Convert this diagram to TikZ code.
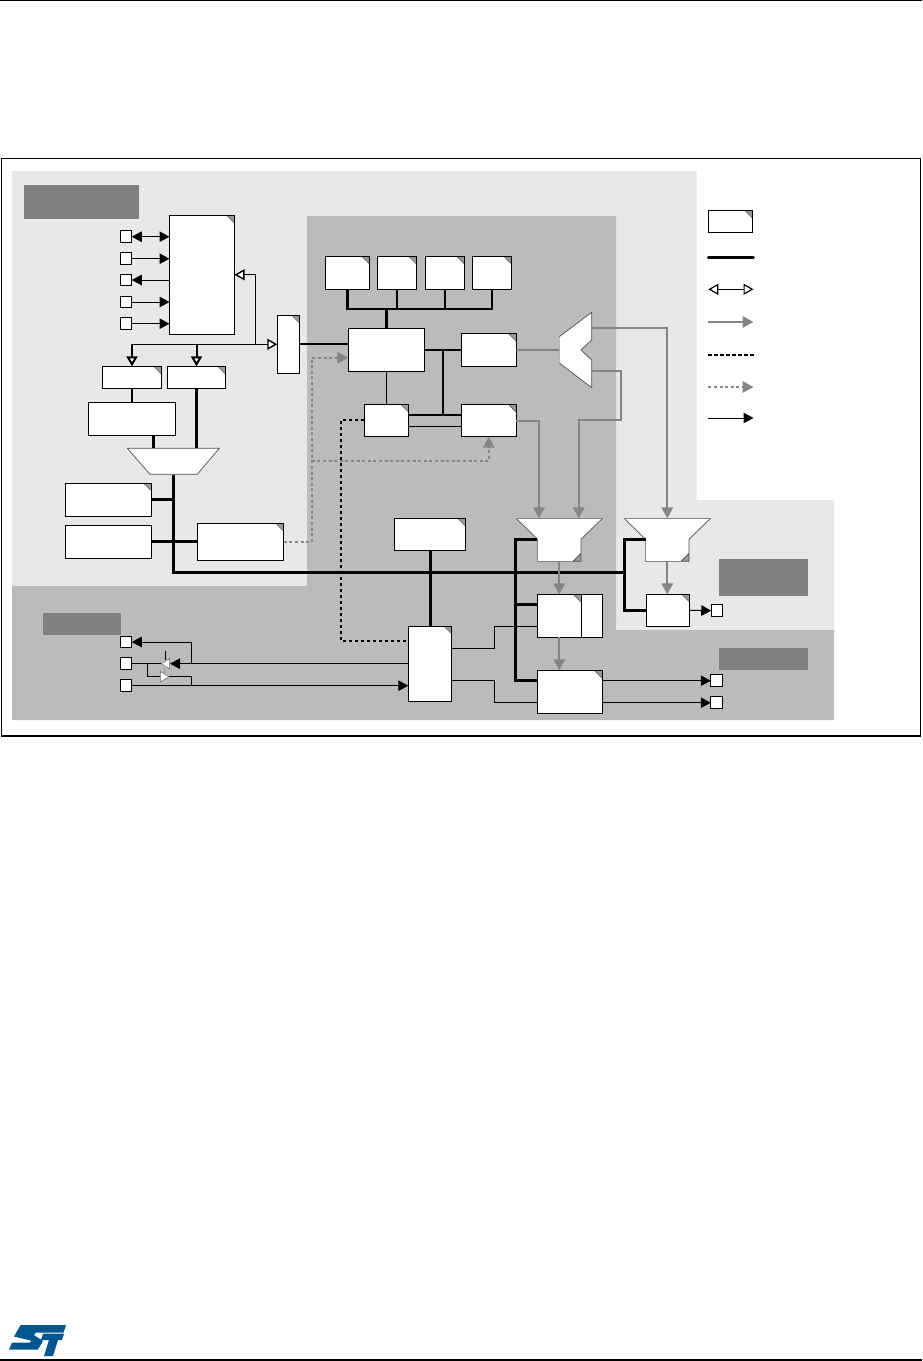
\documentclass[tikz,border=0pt]{standalone}
\usepackage{xcolor}
\usepackage{tikz}
\usetikzlibrary{calc,arrows.meta}
\definecolor{zoneLight}{HTML}{E8E8E8}
\definecolor{zoneDark}{HTML}{BBBBBB}
\definecolor{tagGrey}{HTML}{808080}
\definecolor{cornerGrey}{HTML}{999999}
\definecolor{flowGrey}{HTML}{858585}
\definecolor{logoBlue}{HTML}{03558F}
\tikzset{
  plainbox/.style={rectangle, draw=black, fill=white, line width=1pt, inner sep=0pt, outer sep=0pt},
  regbox/.style={plainbox, path picture={
    \fill[cornerGrey] ($(path picture bounding box.north east)+(-8,0)$) -- (path picture bounding box.north east) -- ($(path picture bounding box.north east)+(0,8)$) -- cycle;
    \draw[line width=0.5pt, black!70] ($(path picture bounding box.north east)+(-8,0)$) -- ($(path picture bounding box.north east)+(0,8)$);}},
  pinbox/.style={plainbox, minimum size=11.5pt},
  tagbox/.style={rectangle, fill=tagGrey, draw=none, inner sep=0pt, outer sep=0pt},
  muxbox/.style={rectangle, draw=none, inner sep=0pt, outer sep=0pt, minimum width=86.4pt, minimum height=43pt},
  thinflow/.style={line width=1pt, draw=black},
  midflow/.style={line width=2.2pt, draw=black},
  busflow/.style={line width=3pt, draw=black},
  tipflow/.style={-{Triangle[length=10pt,width=10.5pt]}, line width=1pt, draw=black},
  openflow/.style={-{Triangle[open,fill=white,length=10pt,width=11pt]}, line width=1.4pt, draw=black},
  greyflow/.style={-{Triangle[length=11pt,width=11.5pt]}, line width=2pt, draw=flowGrey},
  greydash/.style={-{Triangle[length=11pt,width=11.5pt]}, line width=1.7pt, draw=flowGrey, dash pattern=on 3pt off 2.6pt},
  greyline/.style={line width=2pt, draw=flowGrey},
  blackdash/.style={line width=1.8pt, draw=black, dash pattern=on 3.2pt off 2.8pt},
  bufftip/.style={fill=white, draw=black!60, line width=0.5pt},
}

\begin{document}
\begin{tikzpicture}[x=1pt,y=-1pt]
  \useasboundingbox (0,0) rectangle (922,1361);
  \draw[line width=1.2pt] (0,0.6) -- (922,0.6);
  \draw[line width=1.2pt] (0,1360) -- (922,1360);
  \draw[line width=1.1pt] (1.3,158.3) rectangle (920.6,736);

  % zones
  \fill[zoneLight] (12,171) -- (696.7,171) -- (696.7,500) -- (834,500) -- (834,630) -- (12,630) -- cycle;
  \fill[zoneDark] (307,216) -- (616,216) -- (616,630) -- (834,630) -- (834,720) -- (12,720) -- (12,586) -- (307,586) -- cycle;
  \node[tagbox, minimum width=115, minimum height=34] (tagone) at (81.5,202) {};
  \node[tagbox, minimum width=78, minimum height=22] (tagtwo) at (82,624) {};
  \node[tagbox, minimum width=89, minimum height=37] (tagthree) at (763.5,577.5) {};
  \node[tagbox, minimum width=89, minimum height=22] (tagfour) at (763.5,659) {};

  % left block
  \node[regbox, minimum width=65, minimum height=119.5] (gpio) at (202,274.75) {};
  \node[regbox, minimum width=22.4, minimum height=58] (bridge) at (288.5,344.3) {};
  \node[regbox, minimum width=59.4, minimum height=22] (rega) at (132,377.3) {};
  \node[regbox, minimum width=58.4, minimum height=22] (regb) at (196.5,377.3) {};
  \node[plainbox, minimum width=87.4, minimum height=33] (mema) at (132,418.8) {};
  \node[regbox, minimum width=86.4, minimum height=33] (regd) at (108.5,499.8) {};
  \node[plainbox, minimum width=86.4, minimum height=33] (meme) at (108.5,541.8) {};
  \node[regbox, minimum width=86.4, minimum height=37] (regf) at (240.5,541.8) {};
  \foreach \y [count=\i] in {236.7,258.7,280,302,323.7} { \node[pinbox] (pin\i) at (126,\y) {}; }
  \foreach \y [count=\i] in {642,663.7,685.7} { \node[pinbox] (low\i) at (126,\y) {}; }

  % centre block
  \node[regbox, minimum width=44.4, minimum height=33] (topa) at (347.5,272.8) {};
  \node[regbox, minimum width=39.4, minimum height=33] (topb) at (397,272.8) {};
  \node[regbox, minimum width=39.4, minimum height=33] (topc) at (445,272.8) {};
  \node[regbox, minimum width=39.4, minimum height=33] (topd) at (492,272.8) {};
  \node[plainbox, minimum width=76.4, minimum height=43] (core) at (386.5,349.8) {};
  \node[regbox, minimum width=55, minimum height=33] (regn) at (488.8,349.8) {};
  \node[regbox, minimum width=44.4, minimum height=32.4] (rego) at (386.5,420.5) {};
  \node[regbox, minimum width=55, minimum height=32.4] (regp) at (488.8,420.5) {};
  \node[regbox, minimum width=71.4, minimum height=32] (regh) at (430,534.3) {};
  \node[regbox, minimum width=43.4, minimum height=75.3] (regg) at (430,663.7) {};
  \node[regbox, minimum width=44, minimum height=43] (regi) at (559.3,615.8) {};
  \node[plainbox, minimum width=21, minimum height=43] (regj) at (591.8,615.8) {};
  \node[regbox, minimum width=65, minimum height=43] (regk) at (569.8,691.8) {};
  \node[regbox, minimum width=43.4, minimum height=32] (regl) at (668,610.3) {};
  \node[pinbox] (outa) at (717,610.7) {};
  \node[pinbox] (outb) at (716.5,680.7) {};
  \node[pinbox] (outc) at (716.5,702.7) {};

  % funnels
  \foreach \m/\c in {muxb/559.3,muxc/667.3} {
    \fill[white] (\c-43.2,518.3) -- (\c+43.2,518.3) -- (\c+21.7,539.3) -- (\c+21.7,561.3) -- (\c-21.7,561.3) -- (\c-21.7,539.3) -- cycle;
    \fill[cornerGrey] (\c+21.7,553.3) -- (\c+21.7,561.3) -- (\c+13.7,561.3) -- cycle;
    \draw[line width=0.7pt, black!70] (\c+43.2,518.3) -- (\c+21.7,539.3) -- (\c+21.7,561.3) -- (\c+13.7,561.3) -- (\c+21.7,553.3);
    \draw[line width=0.7pt, black!70] (\c-43.2,518.3) -- (\c-21.7,539.3);
    \draw[line width=1pt, flowGrey] (\c-43.2,518.3) -- (\c+43.2,518.3);
    \draw[line width=1pt, flowGrey] (\c-21.7,539.3) -- (\c-21.7,561.3) -- (\c+13.7,561.3);
    \node[muxbox] (\m) at (\c,539.8) {};
  }
  \fill[white] (127.3,448.3) -- (219.3,448.3) -- (197.3,474.3) -- (150,474.3) -- cycle;
  \draw[line width=0.7pt, flowGrey!60!black] (127.3,448.3) -- (219.3,448.3) -- (197.3,474.3) -- (150,474.3) -- cycle;
  \node[rectangle, draw=none, inner sep=0pt, minimum width=92, minimum height=26] (muxa) at (173.3,461.3) {};
  \fill[white] (591.7,312.3) -- (559.3,336.7) -- (559.3,363) -- (591.7,387.7) -- (591.7,360) -- (581,350) -- (591.7,340) -- cycle;
  \draw[line width=0.7pt, black!70] (591.7,387.7) -- (559.3,363);
  \draw[line width=0.7pt, black!70] (559.3,336.7) -- (591.7,312.3) -- (591.7,340) -- (581,350) -- (591.7,360) -- (591.7,387.7);
  \draw[line width=1pt, flowGrey!60] (559.3,336.7) -- (559.3,363);
  \node[rectangle, draw=none, inner sep=0pt, minimum width=32.4, minimum height=75.4] (demux) at (575.5,350) {};

  % free ends
  \coordinate (busleft) at (132,344.3);
  \coordinate (busup) at (255.7,344.3);
  \coordinate (busb) at (196.5,344.3);
  \coordinate (memtap) at (153.3,435);
  \coordinate (mainbus) at (173.3,572.3);
  \coordinate (mainend) at (624,572.3);
  \coordinate (topbus) at (386.5,309);
  \coordinate (tiejoin) at (443,350);
  \coordinate (tiedown) at (443,414.7);
  \coordinate (tiethin) at (443,426.7);
  \coordinate (dashjoin) at (311.7,541.8);
  \coordinate (dashmid) at (311.7,460.7);
  \coordinate (dashup) at (311.7,357.7);
  \coordinate (inbl) at (539,518.3);
  \coordinate (inbr) at (578.7,518.3);
  \coordinate (inc) at (667.3,518.3);
  \coordinate (outhi) at (591.7,327.7);
  \coordinate (outlo) at (591.7,371.3);
  \coordinate (loopr) at (621.3,371.3);
  \coordinate (loopb) at (621.3,420);
  \coordinate (loopl) at (578.7,420);
  \coordinate (stepa) at (494.3,648.3);
  \coordinate (stepb) at (494.3,626);
  \coordinate (stepc) at (494.3,680.3);
  \coordinate (stepd) at (494.3,702.7);
  \coordinate (inrail) at (515,539.3);
  \coordinate (inneck) at (537.3,539.3);
  \coordinate (railmid) at (515,604.3);
  \coordinate (railend) at (515,680.3);
  \coordinate (outrail) at (624,539.3);
  \coordinate (outneck) at (645.7,539.3);
  \coordinate (dashcorner) at (341,641);
  \coordinate (dashtop) at (341,420);
  \coordinate (hooka) at (191.7,642);
  \coordinate (hookb) at (191.7,663.7);
  \coordinate (swa) at (147.3,663.7);
  \coordinate (swb) at (147.3,676.7);
  \coordinate (swc) at (191.7,676.7);
  \coordinate (swd) at (191.7,685.7);
  \coordinate (ctla) at (165.3,650.7);
  \coordinate (ctlb) at (165.3,660);

  % pins to gpio
  \draw[tipflow, {Triangle[length=10pt,width=10.5pt]}-{Triangle[length=10pt,width=10.5pt]}] (pin1.east) -- (pin1.east -| gpio.west);
  \foreach \p in {pin2,pin4,pin5} { \draw[tipflow] (\p.east) -- (\p.east -| gpio.west); }
  \draw[tipflow] (pin3.east -| gpio.west) -- (pin3.east);

  % apb side
  \draw[thinflow, line width=1.3pt] (busleft) -- (busup);
  \draw[openflow] (busup) -- (bridge.west);
  \draw[openflow] (busup) |- (gpio.east);
  \foreach \r/\s in {rega/busleft,regb/busb} { \draw[openflow, line width=2pt] (\s) -- (\r.north); }
  \draw[midflow] (rega.south) -- (mema.north);
  \draw[busflow] (memtap) -- (memtap |- muxa.north);
  \draw[busflow] (regb.south) -- (regb.south |- muxa.north);
  \draw[busflow] (muxa.south) -- (mainbus) -- (mainend);
  \draw[busflow] (regd.east) -- (regd.east -| mainbus);
  \draw[busflow] (meme.east) -- (regf.west);
  \draw[midflow] (bridge.east) -- (bridge.east -| core.west);

  % top of the core
  \draw[midflow] (topa.south) |- (topbus);
  \draw[midflow] (topd.south) |- (topbus);
  \draw[midflow] (topb.south) -- (topb.south |- topbus);
  \draw[midflow] (topc.south) -- (topc.south |- topbus);
  \draw[midflow] (topbus) -- (core.north);
  \draw[midflow] (core.east) -- (regn.west);
  \draw[midflow] (tiejoin) -- (tiedown);
  \draw[midflow] (rego.east |- tiedown) -- (regp.west |- tiedown);
  \draw[thinflow] (rego.east |- tiethin) -- (regp.west |- tiethin);
  \draw[thinflow] (core.south) -- (rego.north);

  % grey paths
  \draw[greyline] (regn.east) -- (demux.west);
  \draw[greyflow] (outhi) -| (inc);
  \draw[greyflow] (outlo) -- (loopr) -- (loopb) -- (loopl) -- (inbr);
  \draw[greyflow] (regp.east) -| (inbl);
  \draw[greyflow] (muxb.south) -- (regi.north -| muxb.south);
  \draw[greyflow] (regi.south) -- (regi.south |- regk.north);
  \draw[greyflow] (inc |- muxc.south) -- (inc |- regl.north);
  \draw[greydash] (regf.east) -- (dashjoin) -- (dashup) -- (core.west |- dashup);
  \draw[greydash] (dashmid) -| (regp.south);

  % dashed control
  \draw[blackdash] (rego.west |- dashtop) -- (dashtop) -- (dashcorner) -- (regg.west |- dashcorner);

  % rails to the outputs
  \draw[busflow] (regh.south) -- (regg.north);
  \draw[busflow] (inneck) -- (inrail) -- (railend) -- (regk.west |- railend);
  \draw[busflow] (railmid) -- (regi.west |- railmid);
  \draw[busflow] (outneck) -- (outrail) -- (outrail |- regl.west) -- (regl.west);
  \draw[thinflow] (regg.east |- stepa) -- (stepa) -- (stepb) -- (regi.west |- stepb);
  \draw[thinflow] (regg.east |- stepc) -- (stepc) -- (stepd) -- (regk.west |- stepd);
  \draw[tipflow] (regl.east) -- (outa.west);
  \draw[tipflow] (regk.east |- outb.west) -- (outb.west);
  \draw[tipflow] (regk.east |- outc.west) -- (outc.west);

  % bottom left pins
  \draw[tipflow] (hookb) -- (hooka) -- (low1.east);
  \draw[tipflow] (regg.west |- hookb) -- (170,663.7);
  \draw[thinflow] (low2.east) -- (162,663.7);
  \draw[thinflow] (swa) -- (swb) -- (160.3,676.7);
  \draw[thinflow] (168,676.7) -- (swc) -- (swd);
  \draw[tipflow] (low3.east) -- (regg.west |- low3.east);
  \draw[thinflow] (ctla) -- (ctlb);
  \draw[line width=1.5pt, cornerGrey] (164.7,668) -- (164.7,673);
  \filldraw[bufftip] (161.3,663.7) -- (169.7,658.5) -- (169.7,669) -- cycle;
  \filldraw[bufftip] (160.3,671.5) -- (169,676.7) -- (160.3,682) -- cycle;

  % legend
  \node[regbox, minimum width=44.4, minimum height=22] (legbox) at (730.5,221.3) {};
  \foreach \n/\y in {lega/257.3,legb/289.3,legc/322,legd/354.7,lege/387,legf/418} {
    \coordinate (\n s) at (708.3,\y); \coordinate (\n t) at (753.5,\y);
  }
  \draw[line width=2.6pt, line cap=round] (legas) -- (legat);
  \draw[line width=1.2pt, {Triangle[open,fill=white,length=10pt,width=11pt]}-{Triangle[open,fill=white,length=10pt,width=11pt]}] (legbs) -- (legbt);
  \draw[greyflow] (legcs) -- (legct);
  \draw[blackdash] (legds) -- (legdt);
  \draw[greydash] (leges) -- (leget);
  \draw[tipflow] (legfs) -- (legft);

  % logo
  \fill[logoBlue] (20.7,1325) -- (66,1325) -- (63.5,1332.5) -- (36,1332.5) -- (34,1335) -- (43,1341) -- (38,1349.5) -- (9,1349.5) -- (12,1342.5) -- (30,1342.5) -- (31,1340.5) -- (14,1336.5) -- cycle;
  \fill[logoBlue] (43,1333.7) -- (64,1333.7) -- (62,1340) -- (58,1340) -- (53,1356) -- (44,1356) -- (49,1340) -- (41,1340) -- cycle;
\end{tikzpicture}
\end{document}
